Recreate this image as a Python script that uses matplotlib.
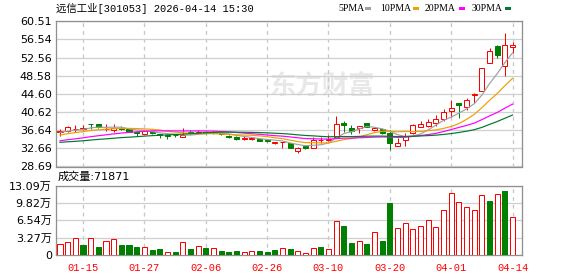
import numpy as np
import pandas as pd
import matplotlib
matplotlib.use('Agg')
import matplotlib.pyplot as plt
from matplotlib.patches import Rectangle

plt.rcParams['font.family'] = ['DejaVu Sans', 'Noto Sans CJK SC']

# trading days 2026-01-12 .. 2026-04-14
dates = ['01-12', '01-13', '01-14', '01-15', '01-16', '01-19', '01-20', '01-21', '01-22', '01-23',
         '01-26', '01-27', '01-28', '01-29', '01-30', '02-02', '02-03', '02-04', '02-05', '02-06',
         '02-09', '02-10', '02-11', '02-12', '02-13', '02-24', '02-25', '02-26', '02-27', '03-02',
         '03-03', '03-04', '03-05', '03-06', '03-09', '03-10', '03-11', '03-12', '03-13', '03-16',
         '03-17', '03-18', '03-19', '03-20', '03-23', '03-24', '03-25', '03-26', '03-27', '03-30',
         '03-31', '04-01', '04-02', '04-03', '04-07', '04-08', '04-09', '04-10', '04-13', '04-14']
shown_dates = ['01-15', '01-27', '02-06', '02-26', '03-10', '03-20', '04-01', '04-14']

open_ = [36.2, 36.5, 36.8, 37.0, 38.1, 37.9, 36.8, 36.7, 37.1, 36.85,
         36.2, 35.8, 36.2, 35.7, 35.6, 35.6, 35.25, 36.3, 35.95, 36.3,
         36.3, 35.95, 35.4, 35.2, 34.8, 34.8, 34.65, 34.4, 33.85, 33.95,
         33.8, 32.15, 33.2, 32.8, 34.4, 34.5, 35.2, 38.15, 37.2, 37.2,
         38.15, 36.7, 36.8, 35.96, 33.2, 34.6, 36.0, 37.4, 37.6, 38.3,
         39.0, 40.9, 42.5, 41.8, 44.3, 45.3, 51.3, 55.1, 50.8, 54.8]
high = [37.0, 37.6, 37.8, 37.8, 38.1, 38.0, 38.0, 38.0, 37.5, 36.9,
        36.4, 36.6, 36.5, 35.8, 35.7, 35.9, 37.05, 36.6, 36.6, 36.5,
        36.4, 36.1, 35.5, 35.3, 35.3, 35.2, 34.8, 34.5, 34.1, 34.1,
        33.9, 33.0, 33.4, 35.2, 35.2, 35.6, 39.75, 38.7, 37.77, 37.6,
        38.3, 37.4, 37.1, 36.7, 34.9, 36.0, 37.9, 38.65, 39.0, 40.0,
        41.2, 43.25, 42.7, 43.6, 44.7, 50.2, 54.6, 55.3, 58.0, 56.0]
low = [35.4, 36.3, 36.2, 36.6, 36.9, 37.2, 36.4, 36.35, 36.6, 36.2,
       35.4, 35.7, 35.9, 34.9, 34.7, 35.1, 35.1, 35.85, 35.85, 35.9,
       35.9, 35.6, 34.9, 34.4, 34.6, 34.6, 34.2, 34.0, 33.6, 32.7,
       32.7, 31.7, 32.6, 32.7, 33.8, 34.2, 35.1, 36.3, 35.9, 36.1,
       37.3, 36.4, 35.9, 32.3, 33.2, 33.2, 35.9, 37.3, 37.3, 37.55,
       38.7, 39.6, 39.3, 41.06, 42.5, 45.2, 51.3, 52.4, 48.5, 53.5]
close = [36.45, 37.25, 36.9, 37.1, 38.0, 37.3, 37.0, 37.2, 36.9, 36.25,
         36.05, 36.5, 36.05, 35.5, 35.3, 35.5, 35.6, 35.95, 36.3, 36.1,
         36.0, 35.7, 35.1, 34.7, 34.9, 34.9, 34.35, 34.2, 33.95, 34.05,
         32.7, 32.65, 32.8, 34.5, 34.55, 34.7, 38.0, 37.8, 36.5, 37.55,
         37.4, 37.2, 35.95, 33.9, 33.9, 35.4, 37.8, 38.0, 38.5, 39.0,
         40.7, 41.4, 42.2, 43.25, 44.6, 50.2, 54.0, 53.1, 55.3, 55.3]
# closes before the visible window, estimated so the MAs start where they do
prior_close = [33.6, 33.9, 33.5, 33.2, 33.0, 33.4, 33.1, 32.9, 33.3, 32.9,
               32.8, 33.0, 32.7, 32.9, 33.2, 33.0, 33.1, 33.3, 33.4, 33.4,
               34.2, 34.6, 35.0, 35.4, 35.75, 35.8, 36.0, 36.3, 36.3]

# volume in 万手
volume = [2.08, 2.52, 3.15, 1.89, 3.15, 1.45, 2.64, 2.96, 1.89, 1.89,
          1.51, 1.45, 0.94, 1.13, 0.50, 0.63, 2.39, 1.13, 1.76, 1.39,
          1.26, 0.82, 0.63, 0.76, 0.50, 0.76, 0.76, 0.63, 0.94, 1.26,
          1.13, 0.76, 0.38, 1.26, 1.51, 1.13, 6.42, 5.48, 2.33, 2.64,
          2.08, 4.34, 2.64, 9.82, 5.04, 6.04, 4.85, 5.48, 6.61, 5.23,
          8.50, 11.65, 9.95, 9.00, 8.50, 11.33, 10.20, 11.52, 12.09, 7.18]
vol_color = 'rrrgrgrrgggrggrgrgrgrgggrrgggrgrrrgrrggrgrggrrrrrrrrrrrrgrg'

price_ticks = [28.69, 32.66, 36.64, 40.62, 44.60, 48.58, 52.56, 56.54, 60.51]
vol_ticks = [0, 3.27, 6.54, 9.82, 13.09]
vol_tick_labels = ['0', '3.27万', '6.54万', '9.82万', '13.09万']

ma_periods = [5, 10, 20, 30]
ma_names = ['5PMA', '10PMA', '20PMA', '30PMA']
ma_colors = ['#a0a0a0', '#f0a000', '#ff00ff', '#007a2e']

RED = '#ff0000'
GREEN = '#008000'
W, H = 578, 276
PX = 0.72  # one pixel in points


def box(x0, y0, x1, y1):
    return [x0 / W, 1 - y1 / H, (x1 - x0) / W, (y1 - y0) / H]


fig = plt.figure(figsize=(W / 100, H / 100), dpi=100)
ax = fig.add_axes(box(56, 21.2, 522, 166.5))
axv = fig.add_axes(box(56, 185.7, 522, 255))

x = np.arange(len(close))
o, hi, lo, c = map(np.array, (open_, high, low, close))
up = c >= o
cols = np.where(up, RED, GREEN)

# candles
ax.vlines(x, lo, hi, colors=cols, lw=PX, zorder=3)
ax.bar(x, np.maximum(np.abs(c - o), 0.02), bottom=np.minimum(o, c), width=0.66,
       color=np.where(up, 'white', GREEN), edgecolor=cols, linewidth=PX, zorder=4)

# moving averages
allc = pd.Series(prior_close + close)
for n, col in zip(ma_periods, ma_colors):
    ma = allc.rolling(n).mean().iloc[len(prior_close):].values
    ax.plot(x, ma, color=col, lw=PX * 1.2, zorder=5)

# volume
vcols = [RED if ch == 'r' else GREEN for ch in vol_color]
vfill = ['white' if ch == 'r' else GREEN for ch in vol_color]
axv.bar(x, volume, width=0.66, color=vfill, edgecolor=vcols, linewidth=PX, zorder=3)

ticks = [dates.index(d) for d in shown_dates]
for a in (ax, axv):
    a.set_xlim(-0.52, 60.23)
    for s in a.spines.values():
        s.set_color('#909090')
        s.set_linewidth(PX * 1.3)
    a.tick_params(length=0, labelsize=8, pad=3)
    a.set_xticks(ticks)
    a.set_axisbelow(True)
    a.grid(axis='y', color='#d0d0d0', lw=PX * 1.3)
    for t in ticks:
        a.axvline(t, color='#c8c8c8', lw=PX * 1.3, ls=(0, (3, 3)), zorder=0.5)

ax.set_ylim(price_ticks[0], price_ticks[-1])
ax.set_yticks(price_ticks)
ax.set_yticklabels(['%.2f' % v for v in price_ticks])
ax.set_xticklabels([])

axv.set_ylim(0, vol_ticks[-1])
axv.set_yticks(vol_ticks)
axv.set_yticklabels(vol_tick_labels)
axv.set_xticklabels(shown_dates, color=RED, family='Liberation Mono', fontsize=7.5)
axv.tick_params(axis='x', pad=6)

# watermark
ax.text(0.571, 0.547, '东方财富', transform=ax.transAxes, ha='center', va='center',
        fontsize=19, fontweight='bold', color='#e8e8e8', zorder=0.2)

# title and labels
fig.text(56 / W, 1 - 8.5 / H, '远信工业[301053] 2026-04-14 15:30',
         family=['Liberation Mono', 'Noto Sans CJK SC'], fontsize=7.5, va='center')
fig.text(58 / W, 1 - 177 / H, '成交量:71871', fontsize=8, va='center')

# MA legend
legend_x = [338, 380, 425, 472]
square_x = [365, 413, 459, 505]
for name, col, tx, sx in zip(ma_names, ma_colors, legend_x, square_x):
    fig.text(tx / W, 1 - 8.5 / H, name, family='Liberation Serif', fontsize=7, va='center')
    fig.add_artist(Rectangle((sx / W, 1 - 10 / H), 6 / W, 3 / H,
                             transform=fig.transFigure, color=col, lw=0))

fig.savefig('out.png', dpi=100)
